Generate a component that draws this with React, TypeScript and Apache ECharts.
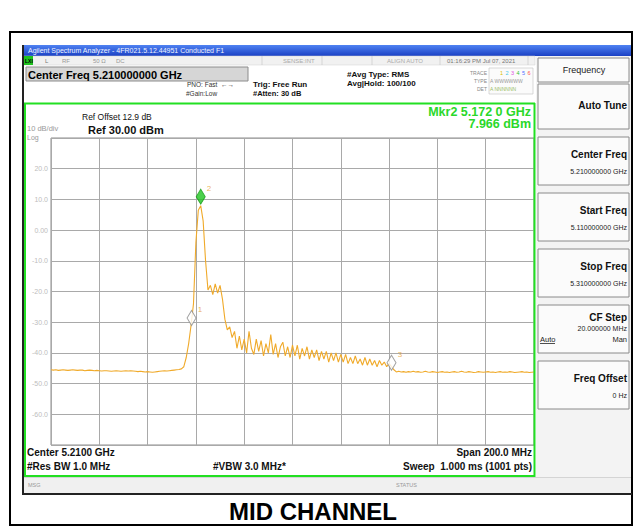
import React, { useEffect, useRef } from 'react';
import * as echarts from 'echarts';

// ---- data ----
const START_MHZ = 5110; // start frequency
const STOP_MHZ = 5310; // stop frequency
const STEP_MHZ = 1; // trace sample spacing used here
const REF_DBM = 30;
const BOTTOM_DBM = -70;
const DB_PER_DIV = 10;
const MHZ_PER_DIV = 20;

const traceDbm: number[] = [
  // 5110-5164 noise floor
  -45.5, -45.6, -45.5, -45.7, -45.6, -45.5, -45.6, -45.7, -45.6, -45.5,
  -45.6, -45.7, -45.6, -45.6, -45.8, -45.7, -45.6, -45.7, -45.8, -45.7,
  -45.8, -45.9, -45.8, -45.8, -45.9, -46.0, -45.9, -45.8, -45.9, -46.0,
  -45.9, -45.8, -45.9, -45.8, -45.9, -46.0, -46.1, -46.0, -46.1, -46.2,
  -46.1, -46.2, -46.3, -46.2, -46.1, -46.0, -45.9, -45.8, -45.9, -45.8,
  -45.7, -45.6, -45.5, -45.4, -45.2,
  // 5165-5175 carrier
  -44.5, -41.5, -37, -31, -24, -4, 6.5, 7.966, 3, -10, -19.5,
  // 5176-5250 skirt
  -18, -21, -17.5, -20.5, -18, -22.5, -29, -32.5, -31.5, -35,
  -33, -38.5, -34.5, -39, -35.5, -40, -33, -38.5, -40.5, -35.5,
  -39.5, -36, -41, -37, -40, -34, -40.5, -37, -41.5, -38,
  -36.5, -41, -38, -41.5, -37.5, -41, -37.5, -42, -38.5, -41,
  -38, -42, -39, -41.5, -39, -42.5, -39.5, -42, -39.5, -43,
  -40, -42.5, -40, -43, -40.5, -43, -40.5, -43.5, -41.5, -43.5,
  -41, -43.5, -42, -44, -41.5, -44, -42, -44, -42.5, -44.5,
  -42.5, -44, -43, -44.5, -43.5,
  // 5251-5310 floor
  -44.5, -45.5, -46.2, -46.0, -46.2, -46.1, -46.3, -46.1, -46.2, -46.0,
  -46.2, -46.1, -46.3, -46.2, -46.0, -46.2, -46.3, -46.1, -46.2, -46.4,
  -46.2, -46.1, -46.3, -46.2, -46.4, -46.2, -46.1, -46.3, -46.2, -46.0,
  -46.2, -46.3, -46.1, -46.2, -46.4, -46.3, -46.1, -46.2, -46.3, -46.2,
  -46.1, -46.3, -46.2, -46.4, -46.2, -46.1, -46.3, -46.2, -46.3, -46.1,
  -46.2, -46.4, -46.3, -46.2, -46.1, -46.3, -46.2, -46.4, -46.3, -46.2,
];

const markerNames = ['1', '2', '3'];
const markerMHz = [5168.2, 5172.0, 5251.0];
const markerDbm = [-29.6, 7.966, -44.5];

const softkeyTitles = ['Auto Tune', 'Center Freq', 'Start Freq', 'Stop Freq', 'CF Step', 'Freq Offset'];
const softkeyValues = ['', '5.210000000 GHz', '5.110000000 GHz', '5.310000000 GHz', '20.000000 MHz', '0 Hz'];

// ---- helpers ----
const F = '"Liberation Sans", Arial, sans-serif';
const T = (
  x: number, y: number, text: string, font: string, fill = '#000',
  align = 'left', z = 20
) => ({
  type: 'text', x, y, silent: true, z,
  style: { text, font, fill, textAlign: align, textVerticalAlign: 'middle' },
});
const R = (x: number, y: number, w: number, h: number, fill: any, stroke?: string, lw = 1, z = 1) => ({
  type: 'rect', silent: true, z,
  shape: { x, y, width: w, height: h },
  style: { fill, stroke: stroke || null, lineWidth: lw },
});
const L = (x1: number, y1: number, x2: number, y2: number, stroke: string, lw = 1, z = 15) => ({
  type: 'line', silent: true, z,
  shape: { x1, y1, x2, y2 },
  style: { stroke, lineWidth: lw },
});

const GREEN = '#22e022';
const TRACE = '#f0aa2a';

function buildOption() {
  const traceData = traceDbm.map((v, i) => [i * STEP_MHZ, v]);
  const markerColors = ['#ffffff', '#1fc41f', '#ffffff'];
  const markerBorders = ['#8a8a8a', '#149a14', '#8a8a8a'];
  const markerOffsets = [[0, -3], [0, -9], [0, -4]];
  const markerData = markerNames.map((n, i) => ({
    name: n,
    value: [markerMHz[i] - START_MHZ, markerDbm[i]],
    symbolOffset: markerOffsets[i],
    itemStyle: { color: markerColors[i], borderColor: markerBorders[i], borderWidth: 1 },
  }));

  const g: any[] = [];
  // outer frame
  g.push(R(10, 32, 622, 493, 'none', '#000', 2, 30));
  // screenshot border
  g.push(L(23, 45, 23, 495, '#222', 2, 30));
  g.push(L(23, 494, 632, 494, '#222', 2, 30));
  // title bar
  g.push(R(24, 45, 608, 11, new echarts.graphic.LinearGradient(0, 0, 0, 1, [
    { offset: 0, color: '#4f82f2' }, { offset: 1, color: '#1a40c4' },
  ])));
  g.push(T(28, 50.5, 'Agilent Spectrum Analyzer - 4FR021.5.12.44951 Conducted F1', `7px ${F}`, '#eef2ff'));
  // second row
  g.push(R(24, 56, 511, 9, '#f1f1f1', '#d0d0d0', 0.5));
  g.push(R(24, 56, 9, 9, '#1fc41f'));
  g.push(T(25, 60.5, 'LXI', `bold 5px ${F}`, '#000'));
  g.push(T(45, 60.5, 'L', `6px ${F}`, '#777'));
  g.push(T(62, 60.5, 'RF', `6px ${F}`, '#999'));
  g.push(T(93, 60.5, '50 Ω', `6px ${F}`, '#999'));
  g.push(T(116, 60.5, 'DC', `6px ${F}`, '#999'));
  g.push(T(283, 60.5, 'SENSE:INT', `6px ${F}`, '#aaa'));
  g.push(T(387, 60.5, 'ALIGN AUTO', `6px ${F}`, '#aaa'));
  g.push(T(447, 60.5, '01:16:29 PM Jul 07, 2021', `6px ${F}`, '#777'));
  [262, 322, 372, 440, 528].forEach((x) => g.push(L(x, 56, x, 65, '#c8c8c8', 0.7, 5)));
  // Center Freq box
  g.push(R(26, 67, 222, 14, '#d6d6d6', '#8c8c8c', 1));
  g.push(T(28, 74.5, 'Center Freq 5.210000000 GHz', `bold 11px ${F}`, '#000'));
  g.push(T(187, 84, 'PNO: Fast  ←→', `6.5px ${F}`, '#333'));
  g.push(T(186, 93, '#Gain:Low', `6.5px ${F}`, '#333'));
  g.push(T(253, 84, 'Trig: Free Run', `bold 8px ${F}`, '#111'));
  g.push(T(253, 93, '#Atten: 30 dB', `bold 7.5px ${F}`, '#111'));
  g.push(T(347, 74, '#Avg Type: RMS', `bold 8px ${F}`, '#111'));
  g.push(T(347, 83, 'Avg|Hold: 100/100', `bold 8px ${F}`, '#111'));
  g.push(T(487, 73, 'TRACE', `5px ${F}`, '#888', 'right'));
  g.push(T(487, 81, 'TYPE', `5px ${F}`, '#888', 'right'));
  g.push(T(487, 89, 'DET', `5px ${F}`, '#888', 'right'));
  g.push(R(489, 68, 44, 26, '#fbfbfb', '#c8c8c8', 0.7));
  const tc = ['#d8c000', '#40c8e8', '#e050e0', '#30c030', '#5070ff', '#ff5050'];
  ['1', '2', '3', '4', '5', '6'].forEach((d, i) => g.push(T(500 + i * 5.5, 73, d, `5.5px ${F}`, tc[i])));
  g.push(T(490, 81, 'A WWWWWW', `5px ${F}`, '#999'));
  g.push(T(490, 89, 'A NNNNNN', `5px ${F}`, '#99bb66'));
  // green measurement frame
  g.push(L(24, 103.5, 535, 103.5, GREEN, 2, 25));
  g.push(L(25, 103, 25, 477, GREEN, 2, 25));
  g.push(L(24, 476, 535, 476, GREEN, 2, 25));
  g.push(L(534.5, 103, 534.5, 477, GREEN, 2, 25));
  // marker readout
  g.push(T(531, 111.5, 'Mkr2 5.172 0 GHz', `bold 12.5px ${F}`, '#2ad82a', 'right'));
  g.push(T(531, 124, '7.966 dBm', `bold 12.5px ${F}`, '#2ad82a', 'right'));
  // ref
  g.push(T(82, 117, 'Ref Offset 12.9 dB', `8.5px ${F}`, '#111'));
  g.push(T(88, 129.5, 'Ref 30.00 dBm', `bold 11px ${F}`, '#111'));
  g.push(T(27, 128.5, '10 dB/div', `7.5px ${F}`, '#9a9a9a'));
  g.push(T(27, 137.5, 'Log', `7px ${F}`, '#9a9a9a'));
  // bottom annotations
  g.push(T(27, 452.5, 'Center 5.2100 GHz', `bold 10px ${F}`, '#111'));
  g.push(T(27, 466, '#Res BW 1.0 MHz', `bold 10px ${F}`, '#111'));
  g.push(T(213, 466, '#VBW 3.0 MHz*', `bold 10px ${F}`, '#111'));
  g.push(T(532, 452.5, 'Span 200.0 MHz', `bold 10px ${F}`, '#111', 'right'));
  g.push(T(532, 466, 'Sweep  1.000 ms (1001 pts)', `bold 10px ${F}`, '#111', 'right'));
  // status bar
  g.push(R(24, 477, 608, 16, '#f0f0f0'));
  g.push(L(24, 477.5, 632, 477.5, '#d4d4d4', 1, 5));
  g.push(T(28, 484.5, 'MSG', `5.5px ${F}`, '#999'));
  g.push(T(396, 484.5, 'STATUS', `5.5px ${F}`, '#999'));
  // right softkey panel
  g.push(R(536, 56, 96, 421, '#f3f3f3'));
  g.push(R(538, 58, 91, 24, '#fbfbfb', '#8a8a8a', 1));
  g.push(T(584, 70, 'Frequency', `9px ${F}`, '#222', 'center'));
  const boxY = [84, 137, 193, 249, 305, 361];
  softkeyTitles.forEach((t, i) => {
    const y = boxY[i];
    g.push(R(538, y, 91, i === 0 ? 45 : 48, '#fbfbfb', '#8a8a8a', 1));
    if (i === 0) {
      g.push(T(627, y + 21, t, `bold 10px ${F}`, '#111', 'right'));
    } else if (i === 4) {
      g.push(T(627, y + 12, t, `bold 10px ${F}`, '#111', 'right'));
      g.push(T(627, y + 23, softkeyValues[i], `7px ${F}`, '#222', 'right'));
      g.push(T(540, y + 34, 'Auto', `7.5px ${F}`, '#222'));
      g.push(L(540, y + 38.5, 555, y + 38.5, '#222', 0.8, 20));
      g.push(T(627, y + 34, 'Man', `7.5px ${F}`, '#222', 'right'));
    } else {
      g.push(T(627, y + 17, t, `bold 10px ${F}`, '#111', 'right'));
      g.push(T(627, y + 34, softkeyValues[i], `7px ${F}`, '#222', 'right'));
    }
  });
  // caption
  g.push(T(313, 511, 'MID CHANNEL', `bold 24px ${F}`, '#000', 'center'));

  return {
    animation: false,
    backgroundColor: '#ffffff',
    grid: {
      left: 51, top: 138, width: 483, height: 307,
      show: true, borderColor: '#8c8c8c', borderWidth: 1,
    },
    xAxis: {
      type: 'value', min: 0, max: STOP_MHZ - START_MHZ, interval: MHZ_PER_DIV,
      axisLabel: { show: false }, axisTick: { show: false },
      axisLine: { show: false },
      splitLine: { show: true, lineStyle: { color: '#a9a9a9', width: 1 } },
    },
    yAxis: {
      type: 'value', min: BOTTOM_DBM, max: REF_DBM, interval: DB_PER_DIV,
      axisTick: { show: false }, axisLine: { show: false },
      splitLine: { show: true, lineStyle: { color: '#a9a9a9', width: 1 } },
      axisLabel: {
        show: true, margin: 3, color: '#bdbdbd', fontSize: 7, fontFamily: F,
        formatter: (v: number) =>
          v === REF_DBM || v === BOTTOM_DBM ? '' : v === 0 ? '0.00' : v.toFixed(1),
      },
    },
    series: [
      {
        type: 'line', data: traceData, showSymbol: false, silent: true,
        lineStyle: { color: TRACE, width: 1.1 }, z: 3,
      },
      {
        type: 'scatter', data: markerData, symbol: 'diamond', symbolSize: [9, 15],
        silent: true, z: 5,
        label: {
          show: true, formatter: '{b}', position: [11, -4],
          color: '#e8a030', fontSize: 8, fontFamily: F,
        },
      },
    ],
    graphic: g,
  };
}

export default function App() {
  const ref = useRef<HTMLDivElement>(null);
  useEffect(() => {
    const chart = echarts.init(ref.current!, null, { renderer: 'svg' });
    chart.setOption(buildOption() as any);
    return () => chart.dispose();
  }, []);
  return (
    <div
      ref={ref}
      style={{ position: 'fixed', left: 0, top: 0, width: 634, height: 527 }}
    />
  );
}
